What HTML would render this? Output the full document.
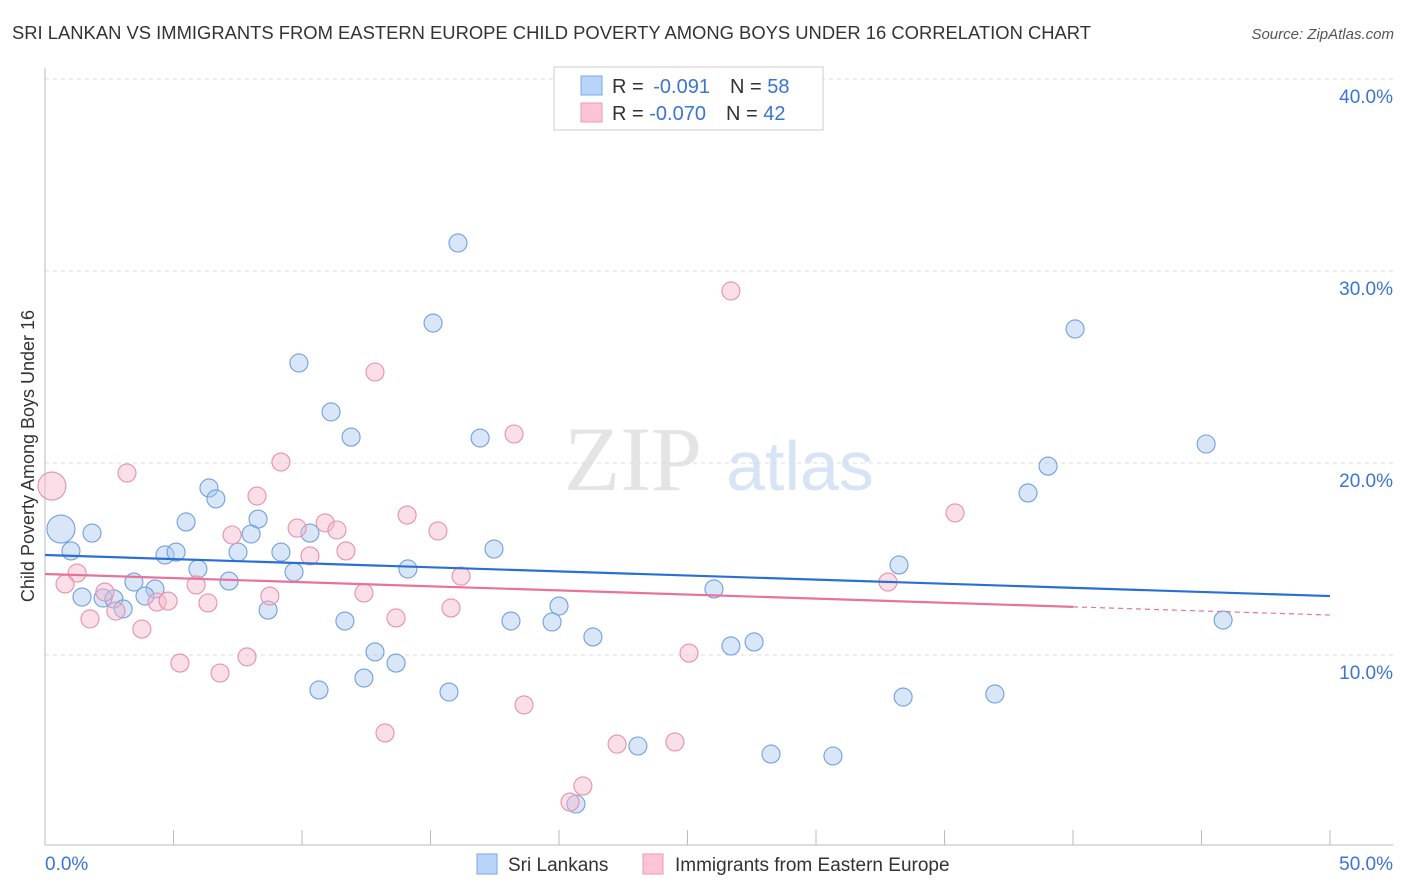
<!DOCTYPE html>
<html><head><meta charset="utf-8"><style>
body{margin:0;background:#fff;font-family:"Liberation Sans",sans-serif}
svg{display:block}
</style></head><body>
<svg id="c" width="1406" height="892">
<text x="12" y="39" font-size="18" fill="#333" textLength="1079" lengthAdjust="spacingAndGlyphs">SRI LANKAN VS IMMIGRANTS FROM EASTERN EUROPE CHILD POVERTY AMONG BOYS UNDER 16 CORRELATION CHART</text>
<text x="1394" y="39" font-size="15" fill="#555" font-style="italic" text-anchor="end">Source: ZipAtlas.com</text>
<text x="633" y="490" font-size="92" fill="#e4e4e4" font-family="Liberation Serif" text-anchor="middle">ZIP</text>
<text x="800" y="490" font-size="70" fill="#d6e4f5" text-anchor="middle">atlas</text>
<text transform="translate(34,456) rotate(-90)" font-size="18" fill="#333" text-anchor="middle">Child Poverty Among Boys Under 16</text>
<g id="grid"></g><g id="pts"></g><g id="lines"></g>
<g>
<rect x="554" y="67" width="269" height="63" fill="#fff" stroke="#ccc"/>
<rect x="581" y="76" width="21" height="19" fill="#b8d4f8" stroke="#7aa8e8"/>
<rect x="581" y="103" width="21" height="19" fill="#fcc4d4" stroke="#ec9ab4"/>
<text x="612" y="93" font-size="20" fill="#333">R = <tspan fill="#3a74d4" dx="4">-0.091</tspan><tspan dx="20">N = </tspan><tspan fill="#3a74d4">58</tspan></text>
<text x="612" y="120" font-size="20" fill="#333">R = <tspan fill="#3a74d4">-0.070</tspan><tspan dx="20">N = </tspan><tspan fill="#3a74d4">42</tspan></text>
</g>
<g>
<rect x="477" y="854" width="20" height="20" fill="#b8d4f8" stroke="#7aa8e8"/>
<text x="508" y="871" font-size="19" fill="#333">Sri Lankans</text>
<rect x="643" y="854" width="20" height="20" fill="#fcc4d4" stroke="#ec9ab4"/>
<text x="675" y="871" font-size="19" fill="#333">Immigrants from Eastern Europe</text>
</g>
</svg>
<script>
const blueX=[16.07,15.10,40.08,9.88,11.13,11.91,16.93,45.18,39.03,38.25,6.38,6.65,0.62,1.83,5.49,8.29,8.02,10.31,1.01,4.67,5.10,7.51,9.18,17.47,5.95,9.69,14.12,33.23,3.46,4.28,7.16,26.03,1.44,2.26,2.68,3.89,3.04,8.68,20.00,11.67,18.13,19.73,45.84,21.32,26.69,27.59,12.84,13.66,12.41,10.66,15.72,33.39,36.96,23.07,28.25,30.66,20.66];
const blueY=[31.46,27.29,26.98,25.21,22.66,21.35,21.30,20.99,19.84,18.44,18.70,18.13,16.56,16.35,16.93,17.08,16.30,16.35,15.42,15.21,15.36,15.36,15.36,15.52,14.48,14.32,14.48,14.69,13.80,13.44,13.85,13.44,13.02,12.97,12.92,13.07,12.40,12.34,12.55,11.77,11.77,11.72,11.82,10.94,10.47,10.68,10.16,9.58,8.80,8.18,8.07,7.81,7.97,5.26,4.84,4.74,2.24];
const pinkX=[26.69,12.84,18.25,9.18,3.19,0.27,8.25,14.09,35.41,9.81,10.90,11.36,15.29,7.28,11.71,10.31,1.25,0.78,16.19,32.80,5.88,2.33,8.75,12.41,4.36,4.79,6.34,2.76,15.80,1.75,13.66,3.77,25.06,5.25,7.86,6.81,18.64,13.23,22.26,24.51,20.93,20.43];
const pinkY=[28.96,24.74,21.51,20.05,19.48,18.80,18.28,17.29,17.40,16.61,16.88,16.51,16.46,16.25,15.42,15.16,14.27,13.70,14.11,13.80,13.65,13.28,13.07,13.23,12.76,12.81,12.71,12.29,12.45,11.88,11.93,11.35,10.10,9.58,9.90,9.06,7.40,5.94,5.36,5.47,3.18,2.34];
const blueBig=[12], pinkBig=[5];
const yTicks=[10,20,30,40];
const xTickVals=[0,5,10,15,20,25,30,35,40,45,50];
const blueTrend=[15.21,13.07], pinkTrend=[14.22,12.08], pinkSolidEnd=40;
const X=v=>45+v*25.7, Y=v=>847-v*19.2;
const NS='http://www.w3.org/2000/svg';
function mk(t,a,p){const e=document.createElementNS(NS,t);for(const k in a)e.setAttribute(k,a[k]);p.appendChild(e);return e;}
const g=document.getElementById('grid'),pts=document.getElementById('pts'),ln=document.getElementById('lines');
yTicks.forEach(v=>{const l=mk('line',{x1:45,x2:1393,y1:Y(v),y2:Y(v),stroke:'#ddd','stroke-dasharray':'4,4'},g);


const t=mk('text',{x:1393,y:Y(v)+24,'font-size':19,fill:'#3a74d4','text-anchor':'end'},g);t.textContent=v.toFixed(1)+'%';

});
const ax=mk('line',{x1:45,x2:1393,y1:845,y2:845,stroke:'#bbb'},g);


const ay=mk('line',{x1:45,x2:45,y1:68,y2:845,stroke:'#bbb'},g);


xTickVals.forEach(v=>{const l=mk('line',{x1:X(v),x2:X(v),y1:830,y2:845,stroke:'#bbb'},g);

});
[[0,'start','0.0%'],[50,'end','50.0%']].forEach(([v,a,s])=>{const t=mk('text',{x:v?1393:45,y:870,'font-size':19,fill:'#3a74d4','text-anchor':a},g);t.textContent=s;

});
function dots(xs,ys,big,fill,stroke,name){xs.forEach((x,i)=>{const c=mk('circle',{cx:X(x),cy:Y(ys[i]),r:big.includes(i)?14:9,fill:fill,'fill-opacity':0.45,stroke:stroke,'stroke-width':1.1},pts);

});}
dots(blueX,blueY,blueBig,'#a8c8f0','#6fa0e0','sri-lankan-point');
dots(pinkX,pinkY,pinkBig,'#f4b8cc','#e890a8','eastern-europe-point');
const bl=mk('line',{x1:X(0),x2:X(50),y1:Y(blueTrend[0]),y2:Y(blueTrend[1]),stroke:'#2a6fd6','stroke-width':2.2},ln);


const pm=v=>pinkTrend[0]+(pinkTrend[1]-pinkTrend[0])*v/50;
const pl=mk('line',{x1:X(0),x2:X(pinkSolidEnd),y1:Y(pm(0)),y2:Y(pm(pinkSolidEnd)),stroke:'#e8729a','stroke-width':2.2},ln);


const pd=mk('line',{x1:X(pinkSolidEnd),x2:X(50),y1:Y(pm(pinkSolidEnd)),y2:Y(pm(50)),stroke:'#e8729a','stroke-width':1.2,'stroke-dasharray':'5,4'},ln);


</script>
</body></html>
